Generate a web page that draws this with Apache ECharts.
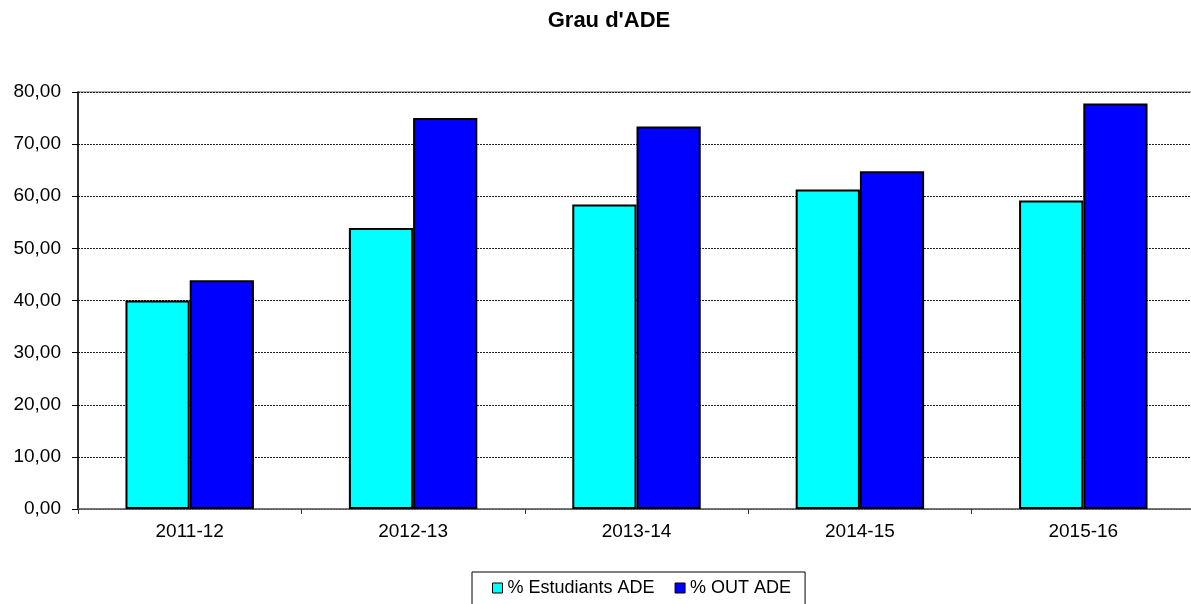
<!DOCTYPE html>
<html>
<head>
<meta charset="utf-8">
<script src="https://cdn.jsdelivr.net/npm/echarts@6/dist/echarts.min.js"></script>
<style>
  html, body { margin: 0; padding: 0; background: #fff; overflow: hidden; width: 1191px; height: 604px; }
  #chart { width: 1195px; height: 604px; }
</style>
</head>
<body>
<div id="chart"></div>
<script>
var years = ["2011-12", "2012-13", "2013-14", "2014-15", "2015-16"];
var estudiants = [40.0, 53.9, 58.4, 61.3, 59.2];
var outAde = [43.9, 75.0, 73.4, 64.8, 77.8];

var font = "Liberation Sans, Arial, sans-serif";
var myChart = echarts.init(document.getElementById("chart"));
myChart.setOption({
  backgroundColor: "#fff",
  animation: false,
  title: {
    text: "Grau d'ADE",
    left: 604,
    textAlign: "center",
    top: 5,
    textStyle: { fontFamily: font, fontSize: 22, fontWeight: "bold", color: "#000" }
  },
  legend: {
    top: 572,
    left: 472,
    itemWidth: 10,
    itemHeight: 10,
    itemGap: 20,
    padding: [7, 14, 12, 20],
    borderColor: "#000",
    borderWidth: 1,
    textStyle: { fontFamily: font, fontSize: 18, color: "#000", padding: [0, 0, 0, 0] },
    data: [
      { name: "% Estudiants ADE", icon: "rect", itemStyle: { borderColor: "#000", borderWidth: 1 } },
      { name: "% OUT ADE", icon: "rect", itemStyle: { borderColor: "#000", borderWidth: 1 } }
    ]
  },
  grid: {
    left: 78, right: 0, top: 92, bottom: 95, containLabel: false,
    show: true, borderColor: "#999", borderWidth: 1.5, backgroundColor: "transparent"
  },
  xAxis: {
    type: "category",
    data: years,
    axisLine: { lineStyle: { color: "#666", width: 1.5 } },
    axisTick: { show: true, alignWithLabel: false, length: 5, lineStyle: { color: "#333" } },
    axisLabel: { fontFamily: font, fontSize: 19, color: "#000", margin: 13 }
  },
  yAxis: {
    type: "value",
    min: 0,
    max: 80,
    interval: 10,
    axisLine: { show: true, lineStyle: { color: "#000", width: 1.5 } },
    axisTick: { show: true, length: 6, lineStyle: { color: "#000" } },
    axisLabel: {
      fontFamily: font, fontSize: 19, color: "#000", margin: 17,
      formatter: function (v) { return v.toFixed(2).replace(".", ","); }
    },
    splitLine: { show: true, lineStyle: { color: "#222", type: [2, 1], width: 1 } }
  },
  series: [
    {
      name: "% Estudiants ADE",
      type: "bar",
      data: estudiants,
      barGap: "0%",
      barCategoryGap: "42.5%",
      itemStyle: { color: "#00ffff", borderColor: "#000", borderWidth: 2 }
    },
    {
      name: "% OUT ADE",
      type: "bar",
      data: outAde,
      itemStyle: { color: "#0000ff", borderColor: "#000", borderWidth: 2 }
    }
  ]
});
</script>
</body>
</html>
